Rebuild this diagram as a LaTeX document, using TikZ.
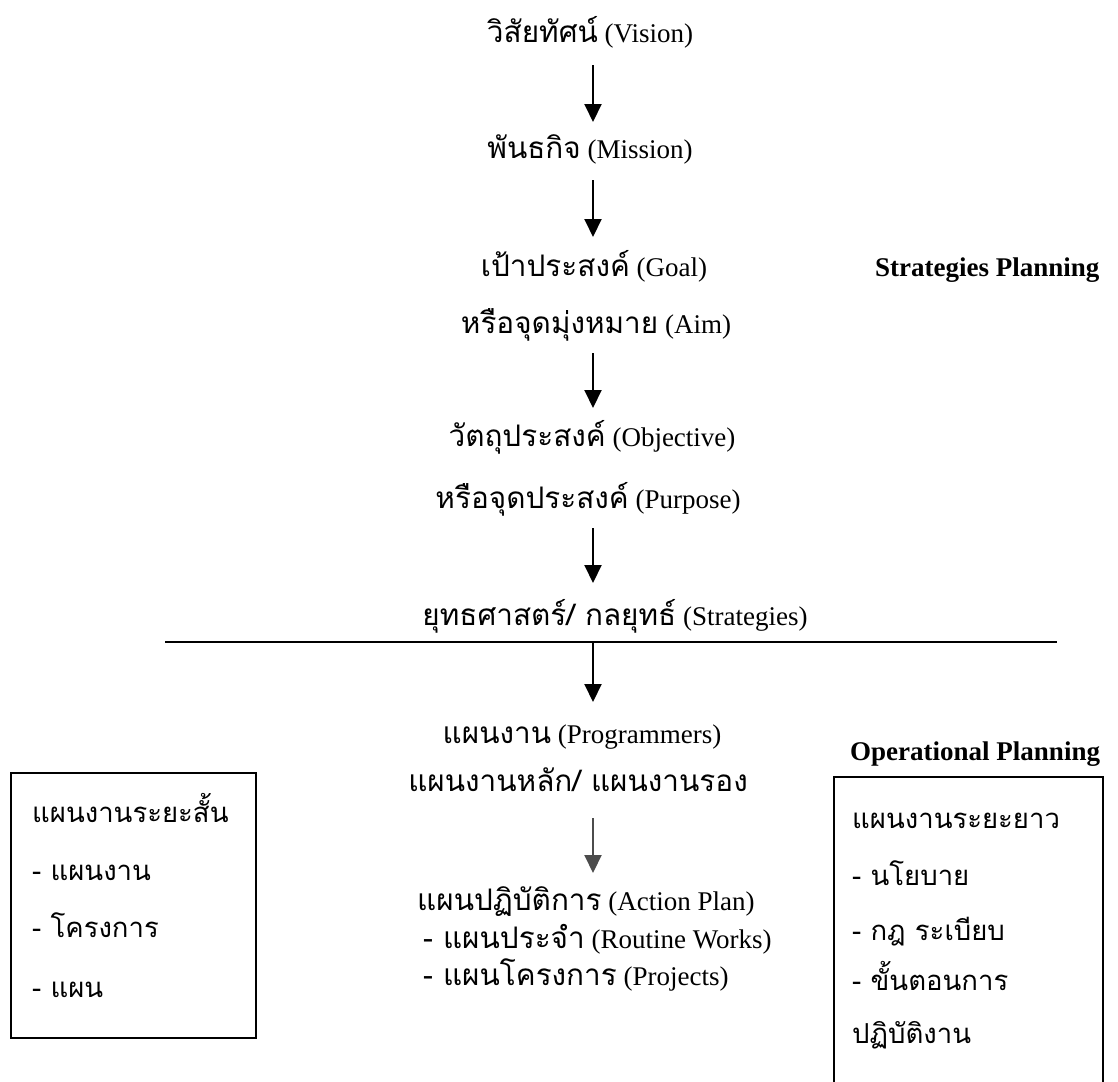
\documentclass[tikz,border=0pt]{standalone}
\usepackage{fontspec}
\setmainfont{Liberation Serif}
\newfontfamily\thai[Script=Thai,Scale=1.1]{Loma}
\usetikzlibrary{arrows.meta}
\tikzset{
  txt/.style={inner sep=0pt, anchor=base, font=\fontsize{27}{32}\selectfont},
  txtl/.style={txt, anchor=base west},
  boxtxt/.style={txtl, font=\fontsize{25}{30}\selectfont},
  hdr/.style={txtl, font=\fontsize{27}{32}\selectfont\bfseries},
  arr/.style={line width=2pt, -{Triangle[width=17pt,length=18pt]}},
  arrgray/.style={arr, draw=black!70, fill=black!70},
  boxframe/.style={draw, line width=2pt, inner sep=0pt, anchor=north west},
}
\begin{document}
\begin{tikzpicture}[x=1pt,y=-1pt]
\useasboundingbox (0,0) rectangle (1118,1081);
\clip (0,0) rectangle (1118,1081);
\coordinate (ax) at (593,0);
\coordinate (divL) at (165,642);
\coordinate (divR) at (1057,642);

\node[txt] (vision) at (590,43) {{\thai วิสัยทัศน์} (Vision)};
\node[txt] (mission) at (590,158) {{\thai พันธกิจ} (Mission)};
\node[txt] (goal) at (594,276) {{\thai เป้าประสงค์} (Goal)};
\node[txt] (aim) at (596,333) {{\thai หรือจุดมุ่งหมาย} (Aim)};
\node[txt] (objective) at (592,446) {{\thai วัตถุประสงค์} (Objective)};
\node[txt] (purpose) at (588,508) {{\thai หรือจุดประสงค์} (Purpose)};
\node[txt] (strategies) at (615,625) {{\thai ยุทธศาสตร์/ กลยุทธ์} (Strategies)};
\node[txt] (prog) at (582,743) {{\thai แผนงาน} (Programmers)};
\node[txt] (mainsub) at (578,791) {\thai แผนงานหลัก/ แผนงานรอง};
\node[txtl] (action) at (417,910) {{\thai แผนปฏิบัติการ} (Action Plan)};
\node[txtl] (routine) at (423,948) {{\thai - แผนประจำ} (Routine Works)};
\node[txtl] (projects) at (423,985) {{\thai - แผนโครงการ} (Projects)};

\node[hdr] (sp) at (875,276) {Strategies Planning};
\node[hdr] (op) at (850,760) {Operational Planning};

\draw[line width=2pt] (divL) -- (divR);

\draw[arr] ([yshift=-22pt]vision.base -| ax) -- ([yshift=36pt]mission.base -| ax);
\draw[arr] ([yshift=-22pt]mission.base -| ax) -- ([yshift=39pt]goal.base -| ax);
\draw[arr] ([yshift=-20pt]aim.base -| ax) -- ([yshift=38pt]objective.base -| ax);
\draw[arr] ([yshift=-20pt]purpose.base -| ax) -- ([yshift=42pt]strategies.base -| ax);
\draw[arr] (ax |- divL) -- ([yshift=41pt]prog.base -| ax);
\draw[arrgray] ([yshift=-27pt]mainsub.base -| ax) -- ([yshift=37pt]action.base -| ax);

\node[boxframe, minimum width=245pt, minimum height=265pt] (sbox) at (10,772) {};
\node[boxtxt] (s1) at (32,822) {\thai แผนงานระยะสั้น};
\node[boxtxt] (s2) at (32,880) {\thai - แผนงาน};
\node[boxtxt] (s3) at (32,937) {\thai - โครงการ};
\node[boxtxt] (s4) at (32,997) {\thai - แผน};

\node[boxframe, minimum width=269pt, minimum height=330pt] (lbox) at (833,776) {};
\node[boxtxt] (l1) at (852,828) {\thai แผนงานระยะยาว};
\node[boxtxt] (l2) at (852,885) {\thai - นโยบาย};
\node[boxtxt] (l3) at (852,940) {\thai - กฎ ระเบียบ};
\node[boxtxt] (l4) at (852,990) {\thai - ขั้นตอนการ};
\node[boxtxt] (l5) at (852,1043) {\thai ปฏิบัติงาน};
\end{tikzpicture}
\end{document}
